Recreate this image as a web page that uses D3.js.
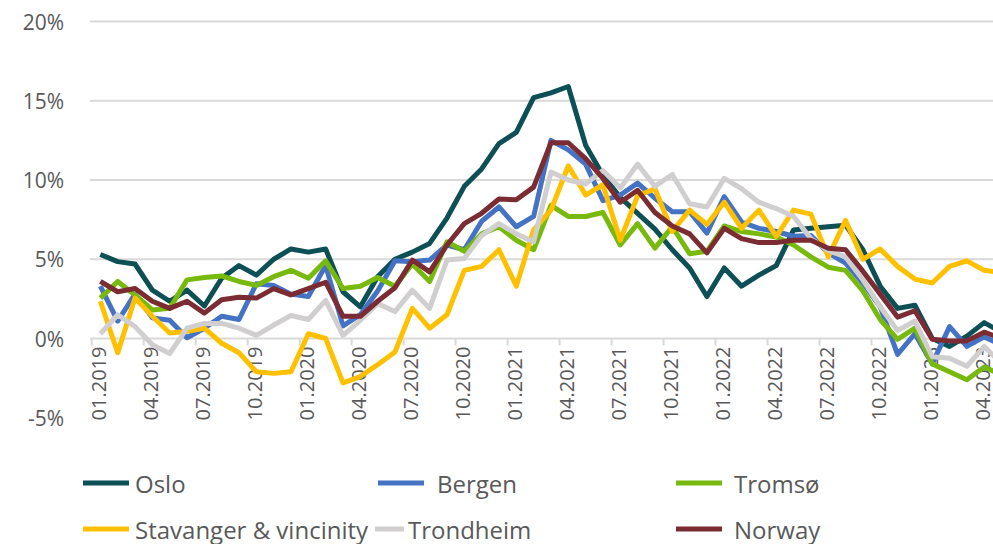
<!DOCTYPE html>
<html>
<head>
<meta charset="utf-8">
<script src="https://cdn.jsdelivr.net/npm/d3@7"></script>
<style>
  html, body { margin: 0; padding: 0; background: #fff; overflow: hidden; }
  svg { display: block; }
  text { font-family: "Open Sans", sans-serif; fill: #595959; }
</style>
</head>
<body>
<svg id="chart" width="993" height="544"></svg>
<script>
// ---- data ----
const months = [];
for (let y = 2019; y <= 2023; y++) {
  for (let m = 1; m <= 12; m++) {
    if (y === 2023 && m > 5) break;
    months.push(String(m).padStart(2, "0") + "." + y);
  }
}
const yTicks = [-5, 0, 5, 10, 15, 20];

const oslo = [5.3, 4.85, 4.7, 3.05, 2.35, 3.05, 2.05, 3.8, 4.6, 4.0, 5.0, 5.65, 5.45, 5.65, 2.95, 2.0, 3.9, 5.0,
  5.45, 6.0, 7.6, 9.6, 10.7, 12.3, 13.0, 15.2, 15.5, 15.9, 12.2, 10.3, 8.9, 7.9, 6.9, 5.6, 4.45, 2.65,
  4.45, 3.3, 4.0, 4.6, 6.85, 6.95, 7.05, 7.15, 5.6, 3.3, 1.9, 2.1, 0.0, -0.5, 0.15, 1.0, 0.4];
const bergen = [3.3, 1.1, 2.8, 1.3, 1.15, 0.05, 0.65, 1.4, 1.2, 3.45, 3.35, 2.8, 2.65, 4.6, 0.8, 1.5, 3.0, 4.9,
  4.85, 4.95, 5.9, 5.6, 7.4, 8.3, 7.05, 7.7, 12.5, 11.9, 11.0, 8.7, 9.05, 9.8, 8.85, 8.0, 8.0, 6.65,
  8.95, 7.35, 6.95, 6.75, 6.45, 6.5, 5.4, 4.75, 3.5, 2.0, -1.0, 0.3, -1.6, 0.75, -0.5, 0.1, -0.4];
const tromso = [2.55, 3.6, 2.75, 1.8, 1.9, 3.7, 3.85, 3.95, 3.6, 3.35, 3.9, 4.3, 3.8, 4.9, 3.15, 3.3, 3.85, 3.3,
  4.7, 3.6, 6.1, 5.5, 6.6, 7.05, 6.2, 5.6, 8.4, 7.7, 7.7, 7.95, 5.9, 7.25, 5.7, 7.05, 5.35, 5.5,
  7.1, 6.75, 6.6, 6.4, 5.9, 5.15, 4.5, 4.3, 3.0, 1.2, -0.05, 0.65, -1.6, -2.1, -2.6, -1.8, -2.3];
const stavanger = [2.35, -0.9, 2.55, 1.4, 0.35, 0.45, 0.65, -0.3, -0.9, -2.1, -2.2, -2.1, 0.3, 0.0, -2.8, -2.4, -1.65, -0.85,
  1.9, 0.65, 1.5, 4.3, 4.55, 5.6, 3.3, 6.85, 8.1, 10.9, 9.05, 9.7, 6.2, 9.0, 9.45, 6.75, 8.1, 7.2,
  8.6, 6.95, 8.1, 6.45, 8.1, 7.85, 5.15, 7.45, 5.0, 5.65, 4.55, 3.75, 3.5, 4.55, 4.9, 4.3, 4.15];
const trondheim = [0.3, 1.5, 0.75, -0.4, -0.95, 0.65, 0.95, 0.95, 0.65, 0.2, 0.85, 1.45, 1.2, 2.4, 0.2, 1.15, 2.2, 1.7,
  3.05, 1.9, 4.95, 5.05, 6.5, 7.25, 6.6, 6.1, 10.5, 10.0, 9.75, 10.6, 9.5, 11.0, 9.6, 10.35, 8.5, 8.3,
  10.1, 9.45, 8.6, 8.2, 7.7, 6.3, 5.55, 5.15, 3.7, 2.0, 0.5, 1.1, -1.15, -1.25, -1.75, -0.5, -1.6];
const norway = [3.6, 2.95, 3.15, 2.35, 1.9, 2.35, 1.6, 2.45, 2.6, 2.55, 3.15, 2.75, 3.15, 3.55, 1.4, 1.4, 2.35, 3.2,
  4.95, 4.2, 5.9, 7.25, 7.9, 8.8, 8.75, 9.55, 12.35, 12.35, 11.35, 10.1, 8.6, 9.35, 7.95, 7.1, 6.6, 5.4,
  6.95, 6.3, 6.05, 6.05, 6.2, 6.2, 5.7, 5.6, 4.25, 2.8, 1.35, 1.75, -0.05, -0.15, -0.15, 0.4, 0.0];

const seriesNames = ["Oslo", "Bergen", "Tromsø", "Stavanger & vincinity", "Trondheim", "Norway"];
const seriesValues = [oslo, bergen, tromso, stavanger, trondheim, norway];
const seriesColors = ["#0c4f55", "#4472c4", "#78b90e", "#ffc000", "#d0cece", "#7b2c33"];

// ---- layout ----
const svg = d3.select("#chart");
const bandW = 17.33;
const x = d3.scaleBand().domain(months).range([91.7, 91.7 + months.length * bandW]).paddingInner(0).paddingOuter(0);
const cx = m => x(m) + x.bandwidth() / 2;
const y = d3.scaleLinear().domain([-5, 20]).range([417.75, 21.5]);

// gridlines
svg.append("g").selectAll("line")
  .data(yTicks.filter(t => t > 0))
  .join("line")
  .attr("x1", 90).attr("x2", 1010)
  .attr("y1", d => y(d)).attr("y2", d => y(d))
  .attr("stroke", "#d9d9d9").attr("stroke-width", 2);

// y labels
svg.append("g").selectAll("text")
  .data(yTicks)
  .join("text")
  .attr("x", 64).attr("y", d => y(d))
  .attr("text-anchor", "end").attr("dominant-baseline", "central")
  .attr("font-size", 21)
  .text(d => d + "%");

// x axis
const xAxis = d3.axisBottom(x)
  .tickValues(months.filter((m, i) => i % 3 === 0))
  .tickSize(0)
  .tickFormat(d => d);
const gx = svg.append("g").attr("transform", `translate(0,${y(0)})`).call(xAxis);
gx.select(".domain").remove();
gx.append("line").attr("x1", 90).attr("x2", 1010).attr("y1", 0).attr("y2", 0)
  .attr("stroke", "#d9d9d9").attr("stroke-width", 2);
gx.selectAll(".bound").data(months.filter((m, i) => i % 3 === 0)).join("line")
  .attr("class", "bound")
  .attr("x1", d => x(d)).attr("x2", d => x(d))
  .attr("y1", 0).attr("y2", 7)
  .attr("stroke", "#d9d9d9").attr("stroke-width", 2);
gx.selectAll(".tick text")
  .attr("font-family", "Open Sans, sans-serif")
  .attr("font-size", 20)
  .attr("fill", "#595959")
  .attr("text-anchor", "end")
  .attr("dominant-baseline", "central")
  .attr("y", null).attr("dy", null)
  .attr("transform", "translate(-2,8) rotate(-90)");

// lines
const line = d3.line().x((d, i) => cx(months[i])).y(d => y(d));
svg.append("g").selectAll("path")
  .data(seriesValues)
  .join("path")
  .attr("d", d => line(d))
  .attr("fill", "none")
  .attr("stroke", (d, i) => seriesColors[i])
  .attr("stroke-width", 5)
  .attr("stroke-linejoin", "round")
  .attr("stroke-linecap", "butt");

// legend
const legendPos = [
  { lx: 83, tx: 135, y: 483 },
  { lx: 378, tx: 437, y: 483 },
  { lx: 676, tx: 734, y: 483 },
  { lx: 83, tx: 135, y: 529 },
  { lx: 375, tx: 408, y: 529 },
  { lx: 676, tx: 734, y: 529 }
];
const lg = svg.append("g");
seriesNames.forEach((name, i) => {
  const p = legendPos[i];
  lg.append("line")
    .attr("x1", p.lx).attr("x2", i === 4 ? 404 : p.lx + 46)
    .attr("y1", p.y).attr("y2", p.y)
    .attr("stroke", seriesColors[i]).attr("stroke-width", 5);
  lg.append("text")
    .attr("x", p.tx).attr("y", p.y)
    .attr("dominant-baseline", "central")
    .attr("font-size", 24)
    .text(name);
});
</script>
</body>
</html>
